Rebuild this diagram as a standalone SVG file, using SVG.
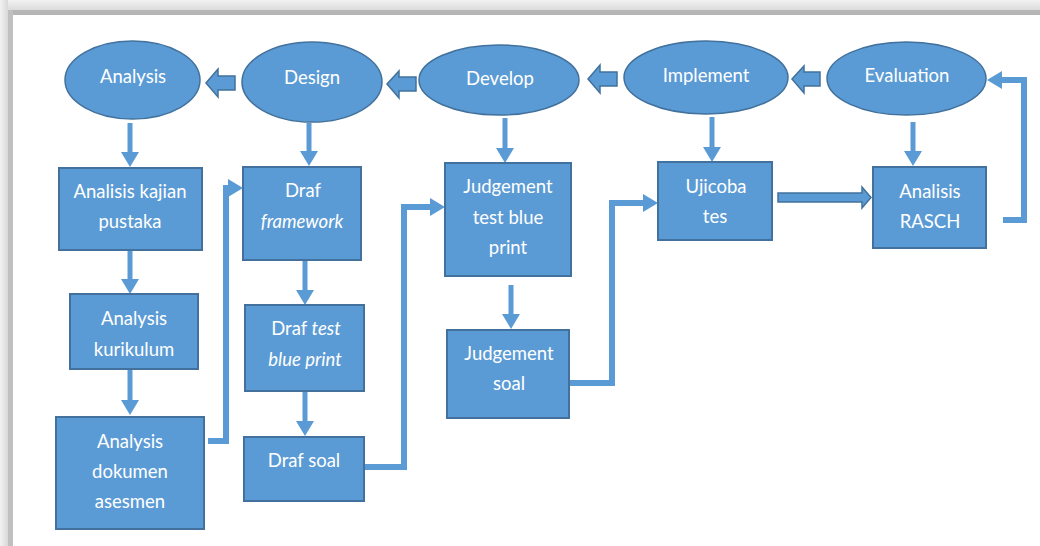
<svg xmlns="http://www.w3.org/2000/svg" width="1040" height="546" viewBox="0 0 1040 546">
<defs>
<style>
.n{fill:#5B9BD5;stroke:#41719C;stroke-width:2}
.e{fill:#5B9BD5;stroke:#41719C;stroke-width:1.5}
.t{font-family:Lato,"Liberation Sans",sans-serif;font-size:18.5px;fill:#fff;text-anchor:middle}
.i{font-style:italic}
.c{fill:none;stroke:#5B9BD5;stroke-width:6}
.d{fill:none;stroke:#5B9BD5;stroke-width:5}
.b{fill:#5B9BD5;stroke:#41719C;stroke-width:1.5;stroke-linejoin:miter}
</style>
<marker id="ah" markerUnits="userSpaceOnUse" markerWidth="16" markerHeight="18" viewBox="0 0 16 18" refX="0" refY="9" orient="auto">
<path d="M0,0 L15,9 L0,18 z" fill="#5B9BD5"/>
</marker>
<linearGradient id="gt" x1="0" y1="0" x2="0" y2="1">
<stop offset="0" stop-color="#f2f2f2"/><stop offset="1" stop-color="#dcdcdc"/>
</linearGradient>
<linearGradient id="gl" x1="0" y1="0" x2="1" y2="0">
<stop offset="0" stop-color="#f2f2f2"/><stop offset="1" stop-color="#d8d8d8"/>
</linearGradient>
</defs>
<g id="frame">
<rect x="0" y="0" width="1040" height="546" fill="#fff"/>
<rect x="0" y="0" width="1040" height="10" fill="url(#gt)"/>
<rect x="0" y="0" width="8" height="546" fill="url(#gl)"/>
<rect x="8" y="10" width="1032" height="5" fill="#b6b6b6"/>
<rect x="8" y="10" width="5" height="536" fill="#c0c0c0"/>
</g>
<g id="connectors">
<path class="d" d="M130,123 V152" marker-end="url(#ah)"/>
<path class="d" d="M309,123 V151" marker-end="url(#ah)"/>
<path class="d" d="M505,118 V148" marker-end="url(#ah)"/>
<path class="d" d="M712,117 V147" marker-end="url(#ah)"/>
<path class="d" d="M913,122 V151" marker-end="url(#ah)"/>
<path class="d" d="M130,250 V279" marker-end="url(#ah)"/>
<path class="d" d="M130,369 V400" marker-end="url(#ah)"/>
<path class="d" d="M305,260 V290" marker-end="url(#ah)"/>
<path class="d" d="M305,391 V421" marker-end="url(#ah)"/>
<path class="d" d="M511,285 V314" marker-end="url(#ah)"/>
<path class="c" d="M208,441 H226 V188 H228" marker-end="url(#ah)"/>
<path class="c" d="M364,467 H404 V207 H430" marker-end="url(#ah)"/>
<path class="c" d="M570,383 H612 V203 H643" marker-end="url(#ah)"/>
<path class="c" d="M1003,220 H1024 V80 H1002" marker-end="url(#ah)"/>
<polygon class="b" points="206,83 218,69 218,76 235,76 235,90 218,90 218,97"/>
<polygon class="b" points="387,84 399,71 399,77 416,77 416,91 399,91 399,98"/>
<polygon class="b" points="588,79 600,65 600,72 617,72 617,86 600,86 600,93"/>
<polygon class="b" points="792,79 804,66 804,72 820,72 820,86 804,86 804,93"/>
<polygon class="b" points="778,193 862,193 862,187 871,197.5 862,208 862,202 778,202"/>
</g>
<g id="analysis"><ellipse class="e" cx="132.5" cy="80" rx="67.5" ry="39"/><text class="t" x="133" y="83">Analysis</text></g>
<g id="design"><ellipse class="e" cx="312" cy="82" rx="70" ry="40"/><text class="t" x="312" y="84">Design</text></g>
<g id="develop"><ellipse class="e" cx="499" cy="80" rx="80" ry="35"/><text class="t" x="500" y="85">Develop</text></g>
<g id="implement"><ellipse class="e" cx="706" cy="77.5" rx="82" ry="36.5"/><text class="t" x="706" y="82">Implement</text></g>
<g id="evaluation"><ellipse class="e" cx="906.5" cy="78.5" rx="79.5" ry="36.5"/><text class="t" x="907" y="82">Evaluation</text></g>
<g id="kajian"><rect class="n" x="59" y="168" width="143" height="82"/><text class="t" x="130" y="198">Analisis kajian</text><text class="t" x="130" y="228">pustaka</text></g>
<g id="kurikulum"><rect class="n" x="70" y="294" width="128" height="75"/><text class="t" x="134" y="325">Analysis</text><text class="t" x="134" y="356">kurikulum</text></g>
<g id="dokumen"><rect class="n" x="56" y="417" width="148" height="112"/><text class="t" x="130" y="448">Analysis</text><text class="t" x="130" y="478">dokumen</text><text class="t" x="130" y="508">asesmen</text></g>
<g id="framework"><rect class="n" x="243" y="167" width="118" height="93"/><text class="t" x="303" y="197">Draf</text><text class="t i" x="302" y="228">framework</text></g>
<g id="testbp"><rect class="n" x="245" y="305" width="119" height="86"/><text class="t" x="306" y="335">Draf <tspan class="i">test</tspan></text><text class="t i" x="305" y="366">blue print</text></g>
<g id="drafsoal"><rect class="n" x="244" y="437" width="120" height="64"/><text class="t" x="304" y="467">Draf soal</text></g>
<g id="judgetest"><rect class="n" x="445" y="163" width="126" height="113"/><text class="t" x="508" y="193">Judgement</text><text class="t" x="508" y="224">test blue</text><text class="t" x="508" y="254">print</text></g>
<g id="judgesoal"><rect class="n" x="447" y="330" width="122" height="88"/><text class="t" x="509" y="360">Judgement</text><text class="t" x="509" y="390">soal</text></g>
<g id="ujicoba"><rect class="n" x="658" y="162" width="114" height="78"/><text class="t" x="716" y="193">Ujicoba</text><text class="t" x="715" y="223">tes</text></g>
<g id="rasch"><rect class="n" x="873" y="167" width="113" height="81"/><text class="t" x="930" y="198">Analisis</text><text class="t" x="930" y="228">RASCH</text></g>
</svg>
